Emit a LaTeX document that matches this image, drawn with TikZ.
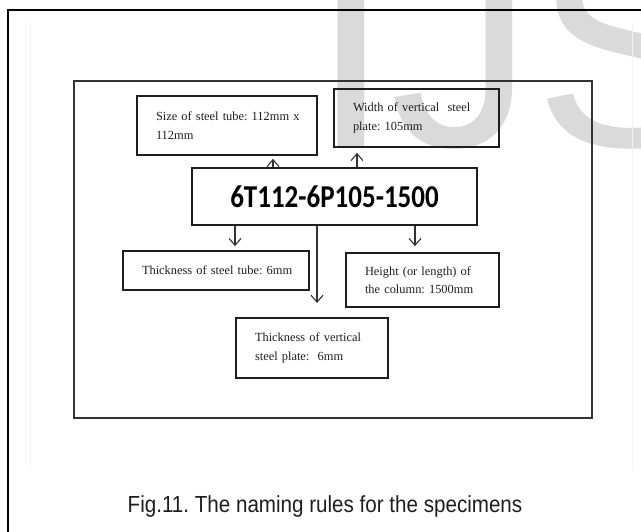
\documentclass[tikz,border=0pt]{standalone}
\usepackage{fontspec}
\usepackage{graphicx}
\setmainfont{Liberation Serif}
\newfontfamily\capfont{Liberation Sans}
\newfontfamily\codefont{Carlito}
\usetikzlibrary{arrows.meta,positioning}
\definecolor{FrameGray}{HTML}{333333}
\definecolor{InkGray}{HTML}{1E1E1E}
\definecolor{MarkGray}{HTML}{DADADA}
\definecolor{ScanGray}{HTML}{F3F3F3}
\frenchspacing

\begin{document}
\begin{tikzpicture}[x=1pt, y=-1pt,
  note/.style={draw=InkGray, line width=1.6pt, inner xsep=19pt, inner ysep=0pt, align=left, text=InkGray, font=\fontsize{12.4}{18.5}\selectfont},
  code/.style={draw=InkGray, line width=1.6pt, minimum width=285pt, minimum height=57pt, font=\codefont\bfseries\fontsize{27}{27}\selectfont},
  arrow/.style={-{Straight Barb[length=7pt,width=12pt]}, line width=1.1pt, draw=FrameGray}
]
\useasboundingbox (0,0) rectangle (641,532);
% watermark behind everything
\node[anchor=base west, inner sep=0pt, text=MarkGray, font=\capfont\fontsize{287}{287}\selectfont] (mark) at (311,147) {IJS};
\draw[ScanGray, line width=0.8pt] (30,22) -- (30,470);
\draw[ScanGray, line width=0.8pt] (632,22) -- (632,470);
% frames
\draw[black, line width=1.8pt] (8,532) -- (8,10) -- (641,10);
\draw[FrameGray, line width=1.8pt] (74,81) rectangle (592,418);

\node[code] (name) at (334.5,196.5) {\scalebox{1}[1.18]{6T112-6P105-1500}};
\node[note, text width=142pt, minimum height=59pt] (tubesize) at (227,125.5) {\mbox{Size of steel tube: 112mm x}\\112mm};
\node[note, text width=127pt, minimum height=58pt] (platewidth) at (416.5,118) {Width of vertical~ steel\\plate: 105mm};
\node[note, text width=148pt, minimum height=39pt] (tubethick) at (216,270.5) {\mbox{Thickness of steel tube: 6mm}};
\node[note, text width=115pt, minimum height=54pt] (colheight) at (422.5,280) {Height (or length) of\\the column: 1500mm};
\node[note, text width=114pt, minimum height=60pt] (platethick) at (312,348) {Thickness of vertical\\steel plate:~ 6mm};
\coordinate (platetip) at (317,303);

\draw[arrow, shorten >=3pt] ([xshift=-61.5pt]name.north) -- ([xshift=-61.5pt]name.north |- tubesize.south);
\draw[arrow, shorten >=5pt] ([xshift=22.5pt]name.north) -- ([xshift=22.5pt]name.north |- platewidth.south);
\draw[arrow, shorten >=4pt] ([xshift=-99.5pt]name.south) -- ([xshift=-99.5pt]name.south |- tubethick.north);
\draw[arrow] ([xshift=-17.5pt]name.south) -- (platetip);
\draw[arrow, shorten >=6pt] ([xshift=80.5pt]name.south) -- ([xshift=80.5pt]name.south |- colheight.north);

\node[anchor=base, inner sep=0pt, text=InkGray, font=\capfont\fontsize{20.6}{24}\selectfont] (caption) at (325,512) {\scalebox{1}[1.13]{Fig.11. The naming rules for the specimens}};
\end{tikzpicture}
\end{document}
